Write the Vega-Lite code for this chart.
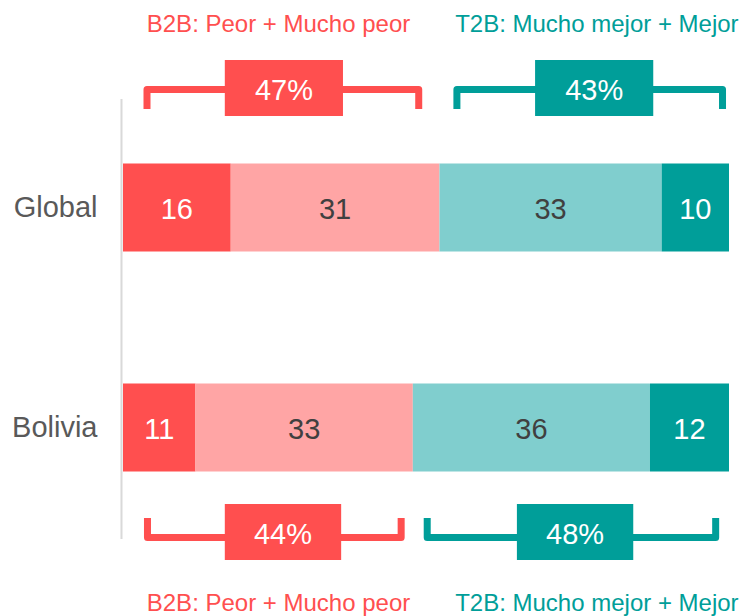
{
  "$schema": "https://vega.github.io/schema/vega-lite/v6.json",
  "width": 606,
  "height": 616,
  "autosize": "none",
  "padding": {"left": 123, "right": 14, "top": 0, "bottom": 0},
  "background": "white",
  "config": {"view": {"stroke": null}, "font": "Liberation Sans"},
  "datasets": {
    "bars": [
      {"country": "Global", "cat": "Mucho peor", "k": 1, "value": 16},
      {"country": "Global", "cat": "Peor", "k": 2, "value": 31},
      {"country": "Global", "cat": "Mejor", "k": 3, "value": 33},
      {"country": "Global", "cat": "Mucho mejor", "k": 4, "value": 10},
      {"country": "Bolivia", "cat": "Mucho peor", "k": 1, "value": 11},
      {"country": "Bolivia", "cat": "Peor", "k": 2, "value": 33},
      {"country": "Bolivia", "cat": "Mejor", "k": 3, "value": 36},
      {"country": "Bolivia", "cat": "Mucho mejor", "k": 4, "value": 12}
    ],
    "frame": [{"x": -0.0025, "y": 16.07, "y2": 87.5}],
    "brackets": [
      {"g": "topB2B", "cat": "Mucho peor", "o": 1, "x": 0.0396, "y": 17.69},
      {"g": "topB2B", "cat": "Mucho peor", "o": 2, "x": 0.0396, "y": 14.53},
      {"g": "topB2B", "cat": "Mucho peor", "o": 3, "x": 0.488, "y": 14.53},
      {"g": "topB2B", "cat": "Mucho peor", "o": 4, "x": 0.488, "y": 17.69},
      {"g": "topT2B", "cat": "Mucho mejor", "o": 1, "x": 0.551, "y": 17.69},
      {"g": "topT2B", "cat": "Mucho mejor", "o": 2, "x": 0.551, "y": 14.53},
      {"g": "topT2B", "cat": "Mucho mejor", "o": 3, "x": 0.9893, "y": 14.53},
      {"g": "topT2B", "cat": "Mucho mejor", "o": 4, "x": 0.9893, "y": 17.69},
      {"g": "botB2B", "cat": "Mucho peor", "o": 1, "x": 0.0404, "y": 84.09},
      {"g": "botB2B", "cat": "Mucho peor", "o": 2, "x": 0.0404, "y": 87.26},
      {"g": "botB2B", "cat": "Mucho peor", "o": 3, "x": 0.459, "y": 87.26},
      {"g": "botB2B", "cat": "Mucho peor", "o": 4, "x": 0.459, "y": 84.09},
      {"g": "botT2B", "cat": "Mucho mejor", "o": 1, "x": 0.502, "y": 84.09},
      {"g": "botT2B", "cat": "Mucho mejor", "o": 2, "x": 0.502, "y": 87.26},
      {"g": "botT2B", "cat": "Mucho mejor", "o": 3, "x": 0.978, "y": 87.26},
      {"g": "botT2B", "cat": "Mucho mejor", "o": 4, "x": 0.978, "y": 84.09}
    ],
    "boxes": [
      {"cat": "Mucho peor", "x": 0.168, "x2": 0.363, "y": 9.74, "y2": 18.83, "pct": "47%", "xm": 0.2656, "yb": 16.23},
      {"cat": "Mucho mejor", "x": 0.680, "x2": 0.875, "y": 9.74, "y2": 18.83, "pct": "43%", "xm": 0.7775, "yb": 16.23},
      {"cat": "Mucho peor", "x": 0.168, "x2": 0.360, "y": 81.82, "y2": 90.91, "pct": "44%", "xm": 0.264, "yb": 88.31},
      {"cat": "Mucho mejor", "x": 0.650, "x2": 0.842, "y": 81.82, "y2": 90.91, "pct": "48%", "xm": 0.746, "yb": 88.31}
    ],
    "headings": [
      {"cat": "Mucho peor", "t": "B2B: Peor + Mucho peor", "x": 0.2566, "y": 5.19},
      {"cat": "Mucho mejor", "t": "T2B: Mucho mejor + Mejor", "x": 0.782, "y": 5.19},
      {"cat": "Mucho peor", "t": "B2B: Peor + Mucho peor", "x": 0.2566, "y": 99.19},
      {"cat": "Mucho mejor", "t": "T2B: Mucho mejor + Mejor", "x": 0.782, "y": 99.19}
    ]
  },
  "resolve": {"scale": {"y": "independent"}},
  "layer": [
    {
      "data": {"name": "frame"},
      "mark": {"type": "rule", "color": "#D9D9D9", "strokeWidth": 2},
      "encoding": {
        "x": {"field": "x", "type": "quantitative", "scale": {"domain": [0, 1], "nice": false}, "axis": null},
        "y": {"field": "y", "type": "quantitative", "scale": {"domain": [0, 100], "reverse": true, "nice": false}, "axis": null},
        "y2": {"field": "y2"}
      }
    },
    {
      "data": {"name": "bars"},
      "mark": {"type": "bar"},
      "encoding": {
        "y": {"field": "country", "type": "nominal", "sort": ["Global", "Bolivia"],
              "scale": {"type": "band", "paddingInner": 0.6, "paddingOuter": 0.7, "align": 0.531},
              "axis": {"title": null, "domain": false, "ticks": false, "labelFontSize": 29, "labelColor": "#595959", "labelPadding": 26, "labelFont": "Liberation Sans"}},
        "x": {"field": "value", "type": "quantitative", "stack": "normalize", "scale": {"domain": [0, 1], "nice": false}, "axis": null},
        "color": {"field": "cat", "type": "nominal",
                  "scale": {"domain": ["Mucho peor", "Peor", "Mejor", "Mucho mejor"], "range": ["#FF4F4F", "#FFA5A5", "#80CECE", "#009E99"]},
                  "legend": null},
        "order": {"field": "k", "type": "quantitative"}
      }
    },
    {
      "data": {"name": "bars"},
      "mark": {"type": "text", "fontSize": 29, "baseline": "middle", "font": "Liberation Sans", "dy": 2},
      "encoding": {
        "y": {"field": "country", "type": "nominal", "sort": ["Global", "Bolivia"], "bandPosition": 0.5,
              "scale": {"type": "band", "paddingInner": 0.6, "paddingOuter": 0.7, "align": 0.531}, "axis": null},
        "x": {"field": "value", "type": "quantitative", "stack": "normalize", "bandPosition": 0.5, "scale": {"domain": [0, 1], "nice": false}, "axis": null},
        "detail": {"field": "cat"},
        "order": {"field": "k", "type": "quantitative"},
        "text": {"field": "value", "type": "quantitative"},
        "color": {"condition": {"test": "datum.cat === 'Peor' || datum.cat === 'Mejor'", "value": "#404040"}, "value": "#FFFFFF"}
      }
    },
    {
      "data": {"name": "brackets"},
      "mark": {"type": "line", "strokeWidth": 7, "strokeJoin": "round", "strokeCap": "butt"},
      "encoding": {
        "x": {"field": "x", "type": "quantitative", "scale": {"domain": [0, 1], "nice": false}, "axis": null},
        "y": {"field": "y", "type": "quantitative", "scale": {"domain": [0, 100], "reverse": true, "nice": false}, "axis": null},
        "detail": {"field": "g"},
        "order": {"field": "o", "type": "quantitative"},
        "color": {"field": "cat", "type": "nominal", "legend": null}
      }
    },
    {
      "data": {"name": "boxes"},
      "mark": {"type": "rect"},
      "encoding": {
        "x": {"field": "x", "type": "quantitative", "scale": {"domain": [0, 1], "nice": false}, "axis": null},
        "x2": {"field": "x2"},
        "y": {"field": "y", "type": "quantitative", "scale": {"domain": [0, 100], "reverse": true, "nice": false}, "axis": null},
        "y2": {"field": "y2"},
        "color": {"field": "cat", "type": "nominal", "legend": null}
      }
    },
    {
      "data": {"name": "boxes"},
      "mark": {"type": "text", "fontSize": 29, "baseline": "alphabetic", "color": "#FFFFFF", "font": "Liberation Sans"},
      "encoding": {
        "x": {"field": "xm", "type": "quantitative", "scale": {"domain": [0, 1], "nice": false}, "axis": null},
        "y": {"field": "yb", "type": "quantitative", "scale": {"domain": [0, 100], "reverse": true, "nice": false}, "axis": null},
        "text": {"field": "pct"}
      }
    },
    {
      "data": {"name": "headings"},
      "mark": {"type": "text", "fontSize": 24, "baseline": "alphabetic", "font": "Liberation Sans"},
      "encoding": {
        "x": {"field": "x", "type": "quantitative", "scale": {"domain": [0, 1], "nice": false}, "axis": null},
        "y": {"field": "y", "type": "quantitative", "scale": {"domain": [0, 100], "reverse": true, "nice": false}, "axis": null},
        "text": {"field": "t"},
        "color": {"field": "cat", "type": "nominal", "legend": null}
      }
    }
  ]
}
